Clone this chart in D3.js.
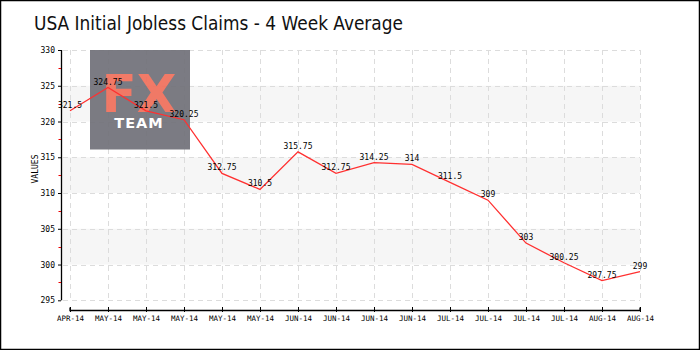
<!DOCTYPE html>
<html><head><meta charset="utf-8">
<script src="https://cdn.jsdelivr.net/npm/d3@7"></script>
<style>body{margin:0;background:#fff}svg{display:block}</style>
</head><body>
<svg id="c" width="700" height="350"></svg>
<script>
const categories = ["APR-14","MAY-14","MAY-14","MAY-14","MAY-14","MAY-14","JUN-14","JUN-14","JUN-14","JUN-14","JUL-14","JUL-14","JUL-14","JUL-14","AUG-14","AUG-14"];
const values = [321.5,324.75,321.5,320.25,312.75,310.5,315.75,312.75,314.25,314,311.5,309,303,300.25,297.75,299];
const yTicks = [295,300,305,310,315,320,325,330];
const yMinorTicks = [297.5,302.5,307.5,312.5,317.5,322.5,327.5];
const bands = [[300,305],[310,315],[320,325]];
const title = "USA Initial Jobless Claims - 4 Week Average";
const yTitle = "VALUES";

const svg = d3.select("#c");
const smallFont = "'DejaVu Sans Mono', monospace";
const x = d3.scalePoint().domain(d3.range(categories.length)).range([70,640]);
const y = d3.scaleLinear().domain([295,330]).range([300.3,50]);
const axisX0 = 61;

svg.append("rect").attr("x",0.5).attr("y",0.5).attr("width",699).attr("height",349)
  .attr("fill","#fff").attr("stroke","#000").attr("stroke-width",1.5);

// bands
svg.selectAll("rect.band").data(bands).enter().append("rect").attr("class","band")
  .attr("x",axisX0).attr("width",640-axisX0)
  .attr("y",d=>y(d[1])).attr("height",d=>y(d[0])-y(d[1]))
  .attr("fill","#f6f6f6");

// grid
const grid = svg.append("g").attr("stroke","#dcdcdc").attr("stroke-dasharray","5,4").attr("stroke-width",1);
grid.selectAll("line.h").data(yTicks).enter().append("line")
  .attr("x1",axisX0+2).attr("x2",640).attr("y1",d=>Math.round(y(d))+0.5).attr("y2",d=>Math.round(y(d))+0.5);
grid.selectAll("line.v").data(d3.range(categories.length)).enter().append("line")
  .attr("x1",d=>Math.round(x(d))+0.5).attr("x2",d=>Math.round(x(d))+0.5).attr("y1",50).attr("y2",300.3);

// watermark
const wm = svg.append("g").attr("opacity",0.93);
wm.append("rect").attr("x",90).attr("y",50).attr("width",100).attr("height",99.5).attr("fill","#72727a");
wm.append("text").attr("x",139).attr("y",112).attr("text-anchor","middle")
  .attr("font-family","'DejaVu Sans', sans-serif").attr("font-size",52).attr("font-weight","bold")
  .attr("fill","#f0705c").attr("textLength",75).attr("lengthAdjust","spacingAndGlyphs").text("FX");
wm.append("text").attr("x",139).attr("y",127.5).attr("text-anchor","middle")
  .attr("font-family","'DejaVu Sans', sans-serif").attr("font-size",14.5).attr("font-weight","bold")
  .attr("letter-spacing",1).attr("fill","#fff").text("TEAM");

// y axis
const yAxis = svg.append("g").attr("transform",`translate(${axisX0},0)`)
  .call(d3.axisLeft(y).tickValues(yTicks).tickSize(3).tickPadding(3).tickFormat(d3.format("d")));
yAxis.select(".domain").attr("d",`M0.5,${y(330)}V${y(295)}`).attr("stroke","#000").attr("stroke-width",1.3);
yAxis.selectAll("text").attr("font-family",smallFont).attr("font-size",8).attr("fill","#000");
svg.append("g").selectAll("line").data(yMinorTicks).enter().append("line")
  .attr("x1",axisX0-2.5).attr("x2",axisX0).attr("y1",d=>Math.round(y(d))+0.5).attr("y2",d=>Math.round(y(d))+0.5)
  .attr("stroke","#e00").attr("stroke-width",1);

// x axis
const xAxis = svg.append("g").attr("transform","translate(0,310)")
  .call(d3.axisBottom(x).tickSize(3).tickPadding(3).tickFormat(i=>categories[i]));
xAxis.select(".domain").attr("d",`M70,-2.5V0.5H640V-2.5`).attr("stroke","#000").attr("stroke-width",1.3).attr("fill","none");
xAxis.selectAll(".tick line").attr("y1",-3).attr("y2",2).attr("stroke","#000");
xAxis.selectAll("text").attr("font-family",smallFont).attr("font-size",7.5).attr("fill","#000").attr("dy","0.6em");

// line
svg.append("path").datum(values)
  .attr("d",d3.line().x((d,i)=>x(i)).y(d=>y(d)))
  .attr("fill","none").attr("stroke","#ff3030").attr("stroke-width",1.3);

// labels
svg.append("g").selectAll("text").data(values).enter().append("text")
  .attr("x",(d,i)=>x(i)).attr("y",d=>y(d)-3)
  .attr("text-anchor","middle").attr("font-family",smallFont).attr("font-size",8).attr("fill","#000")
  .text(d=>d);

// titles
svg.append("text").attr("x",34).attr("y",30).attr("font-family","'DejaVu Sans Condensed','DejaVu Sans', sans-serif")
  .attr("font-size",19).attr("fill","#111").attr("textLength",369).attr("lengthAdjust","spacingAndGlyphs").text(title);
svg.append("text").attr("transform","translate(38,169) rotate(-90)").attr("text-anchor","middle")
  .attr("font-family",smallFont).attr("font-size",8).attr("fill","#000").text(yTitle);
</script>
</body></html>
